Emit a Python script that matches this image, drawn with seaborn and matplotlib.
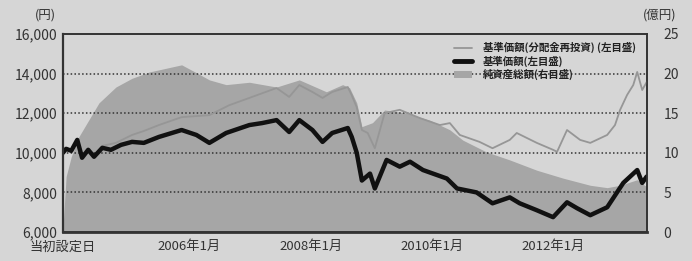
import pandas as pd
import matplotlib
matplotlib.use("Agg")
import matplotlib.pyplot as plt
from matplotlib.lines import Line2D
from matplotlib.patches import Patch
import seaborn as sns

# ---------------- data ----------------
nav_dates = ["2003-12-01", "2003-12-20", "2004-01-20", "2004-02-25", "2004-03-25", "2004-05-01",
             "2004-06-05", "2004-07-25", "2004-09-15", "2004-11-15", "2005-01-20", "2005-04-01",
             "2005-07-01", "2005-11-15", "2006-02-12", "2006-05-01", "2006-08-10", "2006-12-28",
             "2007-03-15", "2007-06-10", "2007-08-25", "2007-10-25", "2008-01-12", "2008-03-13",
             "2008-05-10", "2008-08-12", "2008-09-05", "2008-10-05", "2008-11-05", "2008-12-24",
             "2009-01-22", "2009-04-03", "2009-06-21", "2009-08-22", "2009-11-08", "2010-04-01",
             "2010-06-01", "2010-09-27", "2011-01-01", "2011-04-15", "2011-06-14", "2011-09-25",
             "2012-01-01", "2012-03-25", "2012-05-25", "2012-08-12", "2012-11-22", "2013-02-27",
             "2013-05-22", "2013-06-21", "2013-07-18"]
nav_values = [10000, 10200, 10100, 10650, 9750, 10150,
              9800, 10250, 10150, 10400, 10550, 10500,
              10800, 11150, 10900, 10500, 11000, 11400,
              11500, 11650, 11050, 11650, 11150, 10550,
              11000, 11250, 10800, 10000, 8600, 8950,
              8200, 9640, 9300, 9550, 9130, 8700,
              8200, 8000, 7450, 7750, 7450, 7100,
              6750, 7500, 7200, 6850, 7250, 8480,
              9130, 8480, 8800]

reinv_dates = ["2003-12-01", "2003-12-20", "2004-01-20", "2004-02-25", "2004-03-25", "2004-05-01",
               "2004-06-05", "2004-07-25", "2004-10-15", "2005-01-20", "2005-04-01", "2005-07-01",
               "2005-11-15", "2006-05-01", "2006-08-28", "2006-12-28", "2007-06-10", "2007-08-25",
               "2007-10-25", "2008-01-12", "2008-03-13", "2008-05-10", "2008-08-12", "2008-09-05",
               "2008-10-05", "2008-11-05", "2008-12-10", "2009-01-22", "2009-03-22", "2009-06-21",
               "2009-10-21", "2010-02-18", "2010-04-19", "2010-06-18", "2010-10-15", "2011-01-01",
               "2011-04-15", "2011-05-27", "2011-09-25", "2012-01-01", "2012-01-25", "2012-03-25",
               "2012-06-12", "2012-08-12", "2012-11-22", "2013-01-08", "2013-02-08", "2013-03-22",
               "2013-04-28", "2013-05-22", "2013-06-21", "2013-07-18"]
reinv_values = [10000, 10200, 10100, 10650, 9750, 10150,
                9800, 10350, 10500, 10900, 11100, 11400,
                11800, 11900, 12400, 12770, 13270, 12820,
                13420, 13070, 12770, 13070, 13320, 12900,
                12300, 11150, 11000, 10230, 12000, 12170,
                11750, 11400, 11500, 10900, 10550, 10230,
                10650, 11000, 10500, 10150, 10050, 11150,
                10650, 10500, 10900, 11400, 12170, 12920,
                13420, 14080, 13170, 13570]

assets_dates = ["2003-12-01", "2003-12-20", "2004-01-20", "2004-03-05", "2004-07-05", "2004-10-15",
                "2005-01-20", "2005-05-05", "2005-11-15", "2006-02-12", "2006-05-01", "2006-08-10",
                "2006-12-28", "2007-06-10", "2007-10-25", "2008-04-05", "2008-07-12", "2008-08-23",
                "2008-10-05", "2008-11-05", "2009-01-08", "2009-03-22", "2009-08-04", "2009-12-20",
                "2010-04-19", "2010-07-06", "2010-11-26", "2011-04-15", "2011-09-25", "2012-03-01",
                "2012-08-12", "2012-11-22", "2013-02-08", "2013-05-22", "2013-07-18"]
assets_values = [0.5, 7, 9.5, 12, 16.3, 18.3,
                 19.4, 20.2, 21.1, 20.1, 19.2, 18.6,
                 18.9, 18.3, 19.2, 17.7, 18.6, 18.2,
                 16.3, 13.3, 13.8, 15.4, 15.0, 14.1,
                 12.9, 11.6, 10.1, 9.1, 7.8, 6.8,
                 5.9, 5.6, 5.9, 6.6, 5.7]

tick_dates = ["2003-12-01", "2006-01-01", "2008-01-01", "2010-01-01", "2012-01-01"]
tick_labels = ["当初設定日", "2006年1月", "2008年1月", "2010年1月", "2012年1月"]
left_ticks = [6000, 8000, 10000, 12000, 14000, 16000]
right_ticks = [0, 5, 10, 15, 20, 25]
legend_labels = ["基準価額(分配金再投資) (左目盛)", "基準価額(左目盛)", "純資産総額(右目盛)"]

nav = pd.DataFrame({"date": pd.to_datetime(nav_dates), "value": nav_values})
reinv = pd.DataFrame({"date": pd.to_datetime(reinv_dates), "value": reinv_values})
assets = pd.DataFrame({"date": pd.to_datetime(assets_dates), "value": assets_values})

# ---------------- plot ----------------
sns.set_style("white")
plt.rcParams['font.family'] = ['Noto Sans CJK JP', 'DejaVu Sans']

fig = plt.figure(figsize=(6.92, 2.61), dpi=100, facecolor="#d6d6d6")
ax = fig.add_axes([0.091, 0.111, 0.844, 0.759])
ax2 = ax.twinx()

# area on the right axis, kept behind the lines
ax2.fill_between(assets["date"], assets["value"], 0, color="#a6a6a6", lw=0)
ax2.set_ylim(0, 25)
ax2.set_yticks(right_ticks)
ax2.set_facecolor("white")
ax.set_zorder(ax2.get_zorder() + 1)
ax.patch.set_visible(False)

sns.lineplot(data=reinv, x="date", y="value", ax=ax, color="#969696", lw=1.3)
sns.lineplot(data=nav, x="date", y="value", ax=ax, color="#111111", lw=3.2)

ax.set_ylim(6000, 16000)
ax.set_yticks(left_ticks)
ax.set_yticklabels([f"{v:,}" for v in left_ticks])
for v in left_ticks[1:-1]:
    ax.axhline(v, color="#333333", ls=(0, (1, 1.5)), lw=1.1, zorder=1)

ax.set_xlim(pd.Timestamp("2003-12-01"), pd.Timestamp("2013-07-20"))
ax.set_xticks(pd.to_datetime(tick_dates))
ax.set_xticklabels(tick_labels)
ax.set_xlabel("")
ax.set_ylabel("")
ax2.set_ylabel("")

for a in (ax, ax2):
    for s in a.spines.values():
        s.set_color("#333333")
        s.set_linewidth(1.2)
ax.spines["bottom"].set_linewidth(2)
ax.spines["left"].set_linewidth(1.6)

ax.tick_params(axis="x", direction="in", length=3, pad=6, labelsize=9.5, colors="#333333")
ax.tick_params(axis="y", length=0, pad=4, labelsize=10, labelcolor="#333333")
ax2.tick_params(axis="y", length=0, pad=12, labelsize=10, labelcolor="#333333")

fig.text(0.066, 0.93, "(円)", fontsize=9, color="#333333", ha="center")
fig.text(0.953, 0.93, "(億円)", fontsize=9, color="#333333", ha="center")

handles = [Line2D([], [], color="#969696", lw=1.3),
           Line2D([], [], color="#111111", lw=3.5),
           Patch(facecolor="#a6a6a6", edgecolor="none")]
leg = ax.legend(handles, legend_labels, loc="upper right", bbox_to_anchor=(0.995, 1.0),
                fontsize=7.5, frameon=False, handlelength=1.8, handleheight=0.6,
                labelspacing=0.2, borderpad=0.3, handletextpad=1.0)
for t in leg.get_texts():
    t.set_fontweight("bold")
    t.set_color("#222222")

fig.savefig("out.png", dpi=100, facecolor=fig.get_facecolor())
